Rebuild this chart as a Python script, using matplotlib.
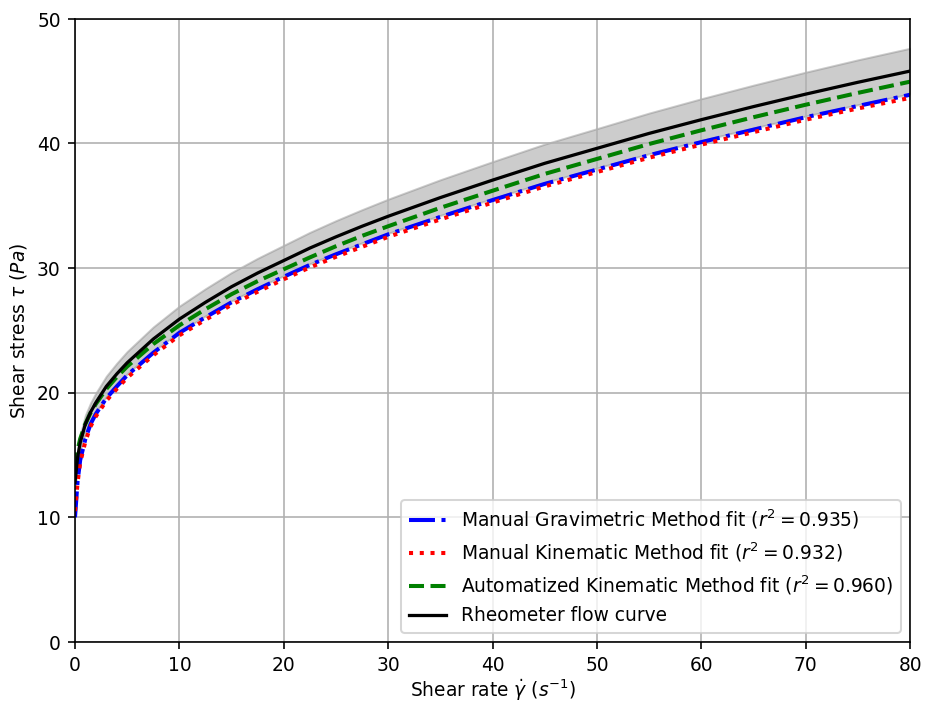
import numpy as np
import matplotlib
matplotlib.use("Agg")
import matplotlib.pyplot as plt

plt.rcParams["font.size"] = 9.2

# shear rate grid (1/s) and values (Pa)
shear_rate = [0, 0.25, 0.5, 1, 1.5, 2, 3, 4, 5, 7.5, 10, 12.5, 15, 17.5, 20, 22.5, 25, 27.5, 30,
              35, 40, 45, 50, 55, 60, 65, 70, 75, 80]

gravimetric = [10.0, 12.9, 14.6, 16.3, 17.5, 18.3, 19.55, 20.5, 21.4, 23.2, 24.8, 26.05, 27.25, 28.3,
               29.3, 30.25, 31.1, 31.9, 32.7, 34.1, 35.45, 36.75, 37.9, 39.05, 40.1, 41.1, 42.1, 43.0, 43.9]
kinematic = [10.5, 12.8, 14.4, 16.1, 17.3, 18.1, 19.35, 20.3, 21.2, 23.0, 24.6, 25.85, 27.05, 28.1,
             29.1, 30.05, 30.9, 31.7, 32.5, 33.9, 35.25, 36.55, 37.7, 38.85, 39.9, 40.9, 41.9, 42.8, 43.65]
automatized = [14.0, 15.4, 16.3, 17.5, 18.4, 19.1, 20.3, 21.25, 22.1, 23.9, 25.4, 26.7, 27.9, 28.95,
               29.9, 30.85, 31.75, 32.58, 33.35, 34.83, 36.2, 37.55, 38.75, 39.95, 41.05, 42.1, 43.1, 44.05, 44.95]
rheometer = [12.8, 14.8, 16.0, 17.5, 18.45, 19.2, 20.5, 21.5, 22.4, 24.3, 25.9, 27.25, 28.5, 29.6,
             30.6, 31.6, 32.5, 33.35, 34.15, 35.65, 37.05, 38.4, 39.6, 40.8, 41.9, 42.95, 43.95, 44.9, 45.8]
band_upper = [13.31, 15.39, 16.64, 18.2, 19.19, 19.97, 21.32, 22.36, 23.3, 25.27, 26.94, 28.34, 29.64, 30.78,
              31.82, 32.86, 33.8, 34.68, 35.52, 37.08, 38.53, 39.94, 41.18, 42.43, 43.58, 44.67, 45.71, 46.7, 47.63]
band_lower = [12.29, 14.21, 15.36, 16.8, 17.71, 18.43, 19.68, 20.64, 21.5, 23.33, 24.86, 26.16, 27.36, 28.42,
              29.38, 30.34, 31.2, 32.02, 32.78, 34.22, 35.57, 36.86, 38.02, 39.17, 40.22, 41.23, 42.19, 43.1, 43.97]

r2 = {"grav": 0.935, "kin": 0.932, "auto": 0.960}

#%% plot
fig = plt.figure(figsize=(6.4, 4.8), dpi=146.1)
ax = fig.add_axes([0.0802, 0.0842, 0.8931, 0.8887])

ax.fill_between(shear_rate, band_lower, band_upper, color="grey", alpha=0.4)
ax.plot(shear_rate, gravimetric, "b-.", lw=2,
        label=r"Manual Gravimetric Method fit ($r^2 = {:.3f}$)".format(r2["grav"]))
ax.plot(shear_rate, kinematic, "r:", lw=2,
        label=r"Manual Kinematic Method fit ($r^2 = {:.3f}$)".format(r2["kin"]))
ax.plot(shear_rate, automatized, "g--", lw=2,
        label=r"Automatized Kinematic Method fit ($r^2 = {:.3f}$)".format(r2["auto"]))
ax.plot(shear_rate, rheometer, "k-", lw=1.6, label="Rheometer flow curve")

ax.set_xlim(0, 80)
ax.set_ylim(0, 50)
ax.set_xlabel(r"Shear rate $\dot{\gamma}$ $(s^{-1})$", labelpad=1)
ax.set_ylabel(r"Shear stress $\tau$ $(Pa)$")
ax.grid(True)
ax.legend(loc="lower right")

fig.savefig("out.png", dpi=146.1)
